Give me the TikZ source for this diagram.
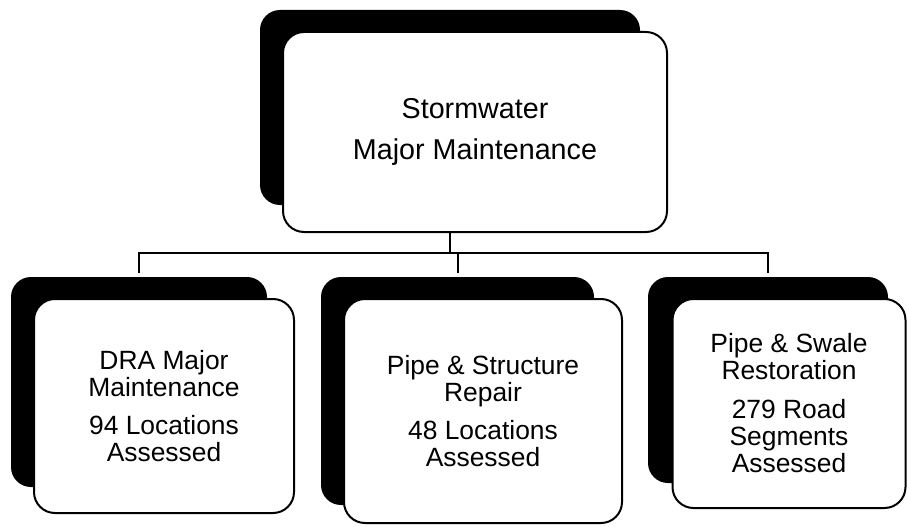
\documentclass[tikz,border=0pt]{standalone}
\usepackage{fontspec}
\setmainfont{Liberation Sans}
\begin{document}
\begin{tikzpicture}[x=1pt,y=-1pt,
  shadowbox/.style={fill=black,rounded corners=20pt,inner sep=0pt,outer sep=0pt},
  cardbox/.style={draw=black,line width=2pt,fill=white,rounded corners=21pt,inner sep=0pt,outer sep=0pt,align=center},
  toptext/.style={font=\fontsize{28.7}{41}\selectfont},
  kidtext/.style={font=\fontsize{26.4}{27}\selectfont},
  link/.style={draw=black,line width=2pt}]
\useasboundingbox (0,0) rectangle (907,527);
% top
\node[shadowbox,minimum width=380pt,minimum height=195pt] (tsh) at (450,107.5) {};
\node[cardbox,toptext,minimum width=384pt,minimum height=200pt] (tcard) at (475,132) {Stormwater\\Major Maintenance};
% children
\node[shadowbox,minimum width=256pt,minimum height=210pt] (lsh) at (139,382) {};
\node[cardbox,kidtext,minimum width=260pt,minimum height=214pt] (lcard) at (164,406) {DRA Major\\Maintenance\\[11pt]94 Locations\\Assessed};
\node[shadowbox,minimum width=273pt,minimum height=228pt] (msh) at (457.5,391) {};
\node[cardbox,kidtext,minimum width=278pt,minimum height=224pt] (mcard) at (483,411) {Pipe \& Structure\\Repair\\[11pt]48 Locations\\Assessed};
\node[shadowbox,minimum width=240pt,minimum height=206pt] (rsh) at (768,380) {};
\node[cardbox,kidtext,minimum width=233pt,minimum height=209pt] (rcard) at (789,403.5) {Pipe \& Swale\\Restoration\\[12pt]279 Road\\Segments\\Assessed};
% connectors
\coordinate (bus) at (450,253);
\coordinate (ldrop) at (139,273);
\coordinate (mdrop) at (457.5,273);
\coordinate (rdrop) at (768,273);
\draw[link] (tsh.center |- tcard.south) -- (bus);
\draw[link] (ldrop) -- (ldrop |- bus) -- (rdrop |- bus) -- (rdrop);
\draw[link] (mdrop |- bus) -- (mdrop);
\end{tikzpicture}
\end{document}
